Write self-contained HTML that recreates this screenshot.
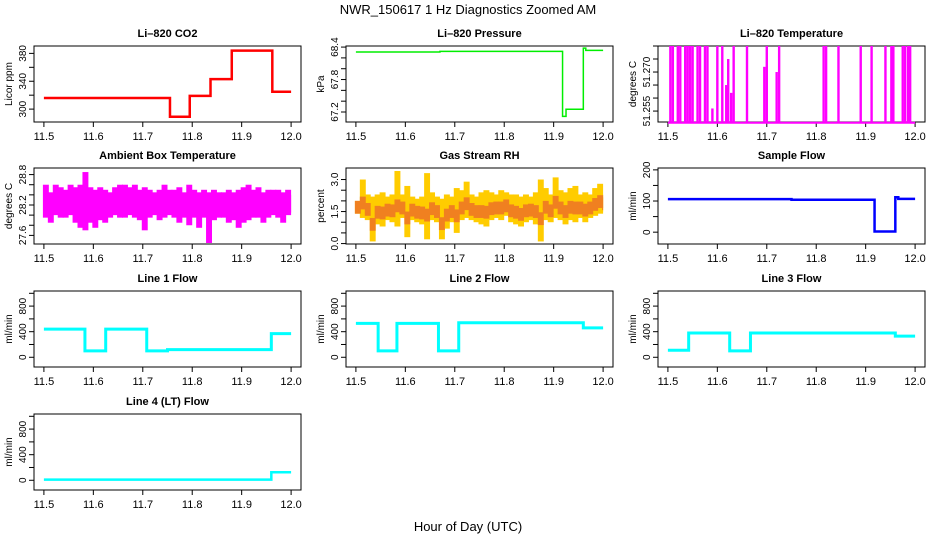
<!DOCTYPE html>
<html><head><meta charset="utf-8"><style>
body{margin:0;background:#fff;}
svg{display:block;font-family:"Liberation Sans",sans-serif;}
</style></head><body>
<svg id="c" width="936" height="540" viewBox="0 0 936 540">
<text x="468" y="14" text-anchor="middle" font-size="13">NWR_150617  1 Hz Diagnostics Zoomed AM</text>
<text x="468" y="531" text-anchor="middle" font-size="13">Hour of Day (UTC)</text>
</svg>
<script>
// ---- data ----
const xTicks=[11.5,11.6,11.7,11.8,11.9,12.0];
const xTickLabels=["11.5","11.6","11.7","11.8","11.9","12.0"];
const co2X=[11.5,11.755,11.795,11.837,11.88,11.962,12.0];
const co2Y=[316,289,319,343,384,325];
const presX=[11.5,11.67,11.918,11.925,11.96,11.965,12.0];
const presY=[68.31,68.32,67.12,67.25,68.38,68.34];
const tempSpikeX=[11.505,11.51,11.52,11.525,11.535,11.54,11.545,11.55,11.56,11.565,11.575,11.58,11.59,11.6,11.61,11.618,11.622,11.628,11.633,11.66,11.695,11.70,11.72,11.725,11.815,11.82,11.845,11.89,11.912,11.94,11.952,11.956,11.975,11.98,11.986,11.99];
const tempSpikeY=[51.28,51.28,51.28,51.28,51.28,51.28,51.28,51.28,51.28,51.28,51.28,51.28,51.256,51.28,51.28,51.265,51.275,51.262,51.28,51.28,51.272,51.28,51.270,51.28,51.28,51.28,51.28,51.28,51.28,51.28,51.28,51.28,51.28,51.28,51.28,51.28];
const tempBase=51.2505;
const ambHi=[28.6,28.45,28.6,28.55,28.5,28.6,28.55,28.6,28.85,28.55,28.5,28.55,28.5,28.45,28.55,28.6,28.6,28.55,28.6,28.5,28.55,28.5,28.45,28.5,28.6,28.5,28.5,28.55,28.45,28.6,28.5,28.45,28.5,28.45,28.5,28.45,28.45,28.5,28.45,28.5,28.55,28.6,28.5,28.55,28.45,28.5,28.5,28.5,28.45,28.5,28.4];
const ambLo=[27.95,27.85,28.0,27.95,27.95,28.0,27.85,27.75,27.7,27.85,27.75,27.9,27.85,27.95,28.0,27.95,27.95,28.0,27.95,27.9,27.7,27.95,28.0,27.9,27.95,28.0,27.95,27.85,27.95,27.8,27.95,27.75,27.95,27.45,27.9,27.95,27.95,27.85,27.9,27.75,27.85,27.9,27.95,27.95,27.85,27.95,28.0,27.95,27.85,28.0,28.05];
const rhHi=[2.0,3.0,2.3,2.2,2.3,2.4,2.2,2.3,3.4,2.3,2.7,2.2,2.1,2.2,3.3,2.4,2.2,2.1,2.3,2.2,2.6,2.5,2.9,2.3,2.2,2.4,2.5,2.4,2.3,2.5,2.4,2.3,2.3,2.2,2.3,2.2,2.4,3.0,2.6,2.3,3.1,2.5,2.4,2.6,2.7,2.3,2.4,2.3,2.6,2.8,2.3];
const rhLo=[1.4,1.2,1.1,0.1,0.9,0.8,1.1,1.0,0.8,1.2,0.3,1.1,1.0,0.9,0.2,1.1,1.0,0.2,0.7,1.0,0.5,1.1,1.2,1.1,1.0,0.9,0.8,1.1,1.2,1.1,1.3,1.0,0.9,0.8,1.0,1.1,0.9,0.1,1.1,1.0,1.2,1.1,0.9,1.1,1.0,1.2,1.0,1.2,1.3,1.4,1.5];
const sfX=[11.5,11.75,11.918,11.96,11.966,12.0];
const sfY=[106,104,2,112,107];
const l1X=[11.5,11.583,11.625,11.708,11.75,11.96,12.0];
const l1Y=[440,100,440,100,120,370];
const l2X=[11.5,11.545,11.583,11.667,11.708,11.96,12.0];
const l2Y=[530,100,530,100,540,460];
const l3X=[11.5,11.542,11.625,11.667,11.96,12.0];
const l3Y=[110,380,100,380,330];
const l4X=[11.5,11.96,12.0];
const l4Y=[10,125];

const svg=document.getElementById('c');
const NS='http://www.w3.org/2000/svg';
function mk(tag,attrs,parent){const e=document.createElementNS(NS,tag);for(const k in attrs)e.setAttribute(k,attrs[k]);(parent||svg).appendChild(e);return e;}
const cols=[34,346,658], rows=[46,168,291,414], W=267, H=76;

function panel(col,row,name,title,ytitle,ymin,ymax,yticks,ylabels){
  const L=cols[col],T=rows[row];
  const g=mk('g',{});
  
  
  const sx=v=>L+9.9+(v-11.5)/0.5*(W-19.8);
  const sy=v=>T+H-(v-ymin)/(ymax-ymin)*H;
  const t=mk('text',{x:L+W/2,y:T-9,'text-anchor':'middle','font-size':'11','font-weight':'bold'},g);t.textContent=title;
  
  
  const b=mk('rect',{x:L,y:T,width:W,height:H,fill:'none',stroke:'#000','stroke-width':1},g);
  
  
  const xa=mk('g',{},g);
  
  
  mk('line',{x1:sx(11.5),x2:sx(12),y1:T+H,y2:T+H,stroke:'#000'},xa);
  xTicks.forEach((v,i)=>{mk('line',{x1:sx(v),x2:sx(v),y1:T+H,y2:T+H+5,stroke:'#000'},xa);
    const tx=mk('text',{x:sx(v),y:T+H+18,'text-anchor':'middle','font-size':'11'},xa);tx.textContent=xTickLabels[i];});
  const ya=mk('g',{},g);
  
  
  mk('line',{x1:L,x2:L,y1:sy(yticks[0]),y2:sy(yticks[yticks.length-1]),stroke:'#000'},ya);
  yticks.forEach((v,i)=>{mk('line',{x1:L-5,x2:L,y1:sy(v),y2:sy(v),stroke:'#000'},ya);
    if(ylabels[i]){const tx=mk('text',{x:L-8,y:sy(v),'text-anchor':'middle','font-size':'10',transform:`rotate(-90 ${L-8} ${sy(v)})`},ya);tx.textContent=ylabels[i];}});
  const yt=mk('text',{x:L-22,y:T+H/2,'text-anchor':'middle','font-size':'10',transform:`rotate(-90 ${L-22} ${T+H/2})`},g);yt.textContent=ytitle;
  
  
  return {g,sx,sy};
}
function step(p,xs,ys,color,w,name){
  let d='';
  ys.forEach((v,i)=>{d+=(i?'L':'M')+p.sx(xs[i])+','+p.sy(v)+'L'+p.sx(xs[i+1])+','+p.sy(v);});
  const e=mk('path',{d,fill:'none',stroke:color,'stroke-width':w},p.g);
  
  
}
function band(p,hi,lo,color,name){
  const g=mk('g',{},p.g);
  
  
  hi.forEach((h,i)=>{const x=11.5+i*0.01;
    const x2=Math.min(12,x+0.01);
    mk('rect',{x:p.sx(x)-1,y:p.sy(h),width:p.sx(x2)-p.sx(x)+1,height:p.sy(lo[i])-p.sy(h),fill:color},g);});
  return g;
}
// CO2
let p=panel(0,0,'co2','Li\u2013820 CO2','Licor ppm',281.5,390.6,[300,320,340,360,380],['300','','340','','380']);
step(p,co2X,co2Y,'#ff0000',2.5,'co2-line');
// Pressure
p=panel(1,0,'pressure','Li\u2013820 Pressure','kPa',67.015,68.42,[67.2,67.4,67.6,67.8,68.0,68.2,68.4],['67.2','','','67.8','','','68.4']);
step(p,presX,presY,'#00ee00',1.5,'pressure-line');
// Temperature
p=panel(2,0,'li820-temp','Li\u2013820 Temperature','degrees C',51.2508,51.28,[51.255,51.26,51.265,51.27,51.275,51.28],['51.255','','','51.270','','']);
(function(){const g=mk('g',{},p.g);
 mk('line',{x1:p.sx(11.5),x2:p.sx(12),y1:p.sy(tempBase),y2:p.sy(tempBase),stroke:'#ff00ff','stroke-width':2},g);
 tempSpikeX.forEach((x,i)=>{mk('rect',{x:p.sx(x)-1.2,y:p.sy(tempSpikeY[i]),width:2.4,height:p.sy(tempBase)-p.sy(tempSpikeY[i]),fill:'#ff00ff'},g);});})();
// Ambient
p=panel(0,1,'ambient-temp','Ambient Box Temperature','degrees C',27.43,28.93,[27.6,27.8,28.0,28.2,28.4,28.6,28.8],['27.6','','','28.2','','','28.8']);
band(p,ambHi,ambLo,'#ff00ff','ambient-temp-line');
// RH
p=panel(1,1,'gas-rh','Gas Stream RH','percent',-0.02,3.54,[0,0.5,1,1.5,2,2.5,3],['0.0','','','1.5','','','3.0']);
band(p,rhHi,rhLo,'#ffcc00','gas-rh-line');
band(p,rhHi.map((h,i)=>(h+rhLo[i]*2)/3+0.4),rhLo.map((l,i)=>(rhHi[i]+l*2)/3-0.2),'#f08020','gas-rh-core');
// Sample flow
p=panel(2,1,'sample-flow','Sample Flow','ml/min',-38,206,[0,50,100,150,200],['0','','100','','200']);
step(p,sfX,sfY,'#0000ff',2.5,'sample-flow-line');
// Line flows
const ft=[0,200,400,600,800,1000], fl=['0','','400','','800',''];
p=panel(0,2,'line1-flow','Line 1 Flow','ml/min',-152,1036,ft,fl);step(p,l1X,l1Y,'#00ffff',3,'line1-flow-line');
p=panel(1,2,'line2-flow','Line 2 Flow','ml/min',-152,1036,ft,fl);step(p,l2X,l2Y,'#00ffff',3,'line2-flow-line');
p=panel(2,2,'line3-flow','Line 3 Flow','ml/min',-152,1036,ft,fl);step(p,l3X,l3Y,'#00ffff',3,'line3-flow-line');
p=panel(0,3,'line4-flow','Line 4 (LT) Flow','ml/min',-152,1036,ft,fl);step(p,l4X,l4Y,'#00ffff',2.5,'line4-flow-line');
</script>
</body></html>
